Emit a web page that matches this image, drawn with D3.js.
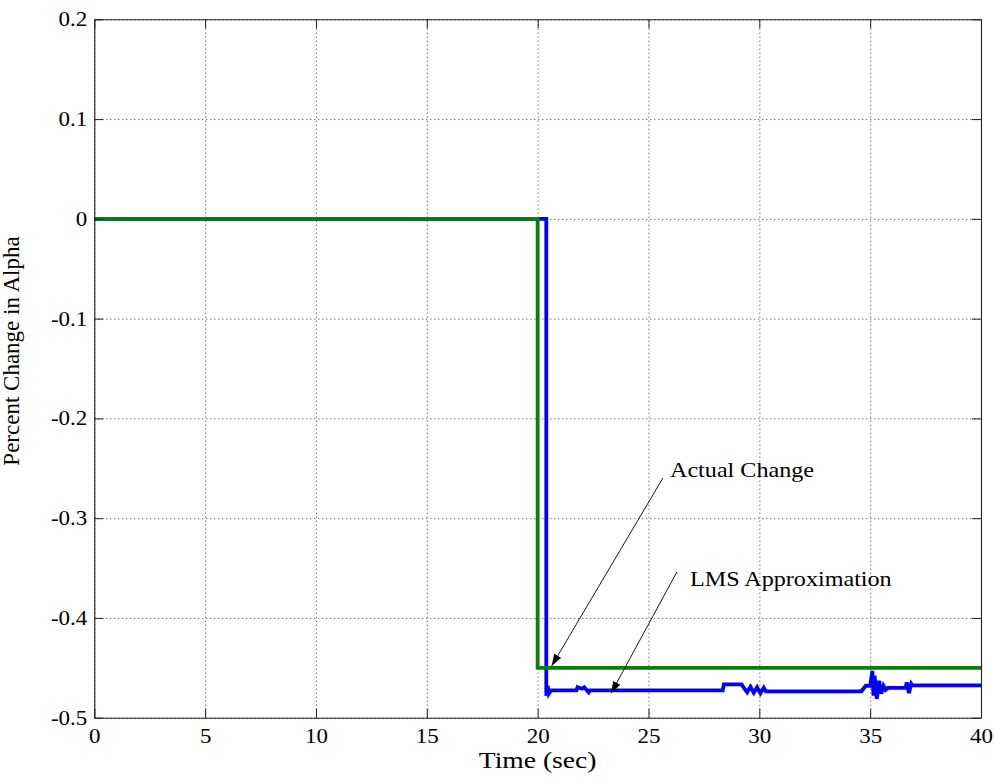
<!DOCTYPE html>
<html>
<head>
<meta charset="utf-8">
<script src="https://cdn.jsdelivr.net/npm/d3@7"></script>
<style>
  html, body { margin: 0; padding: 0; background: #fff; }
  svg { display: block; }
</style>
</head>
<body>
<svg id="chart" width="996" height="783"></svg>
<script>
// ---------- data ----------
const xTicks = [0, 5, 10, 15, 20, 25, 30, 35, 40];
const yTicks = [0.2, 0.1, 0, -0.1, -0.2, -0.3, -0.4, -0.5];
const yTickLabels = ["0.2", "0.1", "0", "-0.1", "-0.2", "-0.3", "-0.4", "-0.5"];

const actualTime  = [0, 20, 20, 40];
const actualValue = [0, 0, -0.45, -0.45];

const lmsTime = [0, 20.39, 20.39, 20.45, 20.5, 20.6, 21.75, 21.8, 22.0, 22.1, 22.3, 22.35,
  28.35, 28.4, 29.2, 29.3, 29.45, 29.6, 29.75, 29.9, 30.05, 30.2, 30.3,
  34.6, 34.8, 35.0, 35.1, 35.15, 35.2, 35.3, 35.4, 35.5, 35.6, 35.7, 35.8,
  36.6, 36.65, 36.75, 36.85, 36.9, 40];
const lmsValue = [0, 0, -0.478, -0.468, -0.476, -0.4727, -0.4727, -0.4695, -0.471, -0.4695, -0.4745, -0.4727,
  -0.4727, -0.4665, -0.4665, -0.470, -0.4745, -0.469, -0.475, -0.4695, -0.4755, -0.470, -0.4737,
  -0.4737, -0.468, -0.468, -0.453, -0.478, -0.458, -0.481, -0.463, -0.476, -0.468, -0.472, -0.4702,
  -0.4702, -0.4646, -0.4754, -0.466, -0.4676, -0.4676];

const annotationText = ["Actual Change", "LMS Approximation"];
const annotationTextT = [25.97, 26.87];
const annotationTextV = [-0.2588, -0.3677];
const annotationFromT = [25.65, 26.28];
const annotationFromV = [-0.2598, -0.354];
const annotationToT   = [20.63, 23.31];
const annotationToV   = [-0.4482, -0.4756];

// ---------- layout ----------
const margin = { left: 94.3, top: 19.3 };
const W = 886.7, H = 698.4;
const SX = 1.15; // horizontal text stretch seen in reference
const FONT = "'Liberation Serif', 'Times New Roman', serif";

const svg = d3.select("#chart");
const g = svg.append("g").attr("transform", `translate(${margin.left},${margin.top})`);

const x = d3.scaleLinear().domain([0, 40]).range([0, W]);
const y = d3.scaleLinear().domain([-0.5, 0.2]).range([H, 0]);

// grid
const gridX = g.append("g").attr("transform", `translate(0,${H})`)
  .call(d3.axisBottom(x).tickValues(xTicks).tickSize(-H).tickFormat(""));
const gridY = g.append("g")
  .call(d3.axisLeft(y).tickValues(yTicks).tickSize(-W).tickFormat(""));
[gridX, gridY].forEach(s => {
  s.select(".domain").remove();
  s.selectAll("line").attr("stroke", "#333").attr("stroke-width", 1).attr("stroke-dasharray", "1,3");
});

// lines
const line = d3.line().x(d => x(d[0])).y(d => y(d[1]));
const lmsData = lmsTime.map((t, i) => [t, lmsValue[i]]);
const actualData = actualTime.map((t, i) => [t, actualValue[i]]);

g.append("path").datum(lmsData).attr("d", line)
  .attr("fill", "none").attr("stroke", "#0000ff").attr("stroke-width", 3.8)
  .attr("stroke-linejoin", "miter");
g.append("path").datum(actualData).attr("d", line)
  .attr("fill", "none").attr("stroke", "#0b7d0b").attr("stroke-width", 3.8)
  .attr("stroke-linejoin", "miter");

// axes (inward ticks, box)
const TK = 9;
const axB = g.append("g").attr("transform", `translate(0,${H})`)
  .call(d3.axisBottom(x).tickValues(xTicks).tickSizeInner(-TK).tickSizeOuter(0));
const axT = g.append("g")
  .call(d3.axisTop(x).tickValues(xTicks).tickSizeInner(-TK).tickSizeOuter(0).tickFormat(""));
const axL = g.append("g")
  .call(d3.axisLeft(y).tickValues(yTicks).tickSizeInner(-TK).tickSizeOuter(0)
    .tickFormat((d, i) => yTickLabels[i]));
const axR = g.append("g").attr("transform", `translate(${W},0)`)
  .call(d3.axisRight(y).tickValues(yTicks).tickSizeInner(-TK).tickSizeOuter(0).tickFormat(""));
[axB, axT, axL, axR].forEach(s => {
  s.select(".domain").attr("stroke", "#222").attr("stroke-width", 1.1);
  s.selectAll(".tick line").attr("stroke", "#222").attr("stroke-width", 1);
});

axB.selectAll(".tick text")
  .attr("font-family", FONT).attr("font-size", 20).attr("fill", "#000")
  .attr("y", 25).attr("dy", 0).attr("x", 0)
  .attr("transform", `scale(${SX},1)`);
axL.selectAll(".tick text")
  .attr("font-family", FONT).attr("font-size", 20).attr("fill", "#000")
  .attr("x", -7 / SX).attr("dy", "0.32em")
  .attr("transform", `scale(${SX},1)`);

// axis labels
g.append("text")
  .attr("transform", `translate(${W / 2},${H + 50.5}) scale(${SX},1)`)
  .attr("text-anchor", "middle")
  .attr("font-family", FONT).attr("font-size", 24).attr("fill", "#000")
  .text("Time (sec)");
svg.append("text")
  .attr("transform", `translate(19,351) rotate(-90)`)
  .attr("text-anchor", "middle")
  .attr("font-family", FONT).attr("font-size", 23).attr("fill", "#000")
  .text("Percent Change in Alpha");

// annotations
const defs = svg.append("defs");
defs.append("marker").attr("id", "arrow")
  .attr("viewBox", "0 0 12 8").attr("refX", 12).attr("refY", 4)
  .attr("markerWidth", 12).attr("markerHeight", 8)
  .attr("markerUnits", "userSpaceOnUse").attr("orient", "auto")
  .append("path").attr("d", "M0,0 L12,4 L0,8 Z").attr("fill", "#000");

annotationText.forEach((txt, i) => {
  g.append("line")
    .attr("x1", x(annotationFromT[i])).attr("y1", y(annotationFromV[i]))
    .attr("x2", x(annotationToT[i])).attr("y2", y(annotationToV[i]))
    .attr("stroke", "#000").attr("stroke-width", 0.9)
    .attr("marker-end", "url(#arrow)");
  g.append("text")
    .attr("transform", `translate(${x(annotationTextT[i])},${y(annotationTextV[i])}) scale(${SX},1)`)
    .attr("font-family", FONT).attr("font-size", 21).attr("fill", "#000")
    .text(txt);
});
</script>
</body>
</html>
